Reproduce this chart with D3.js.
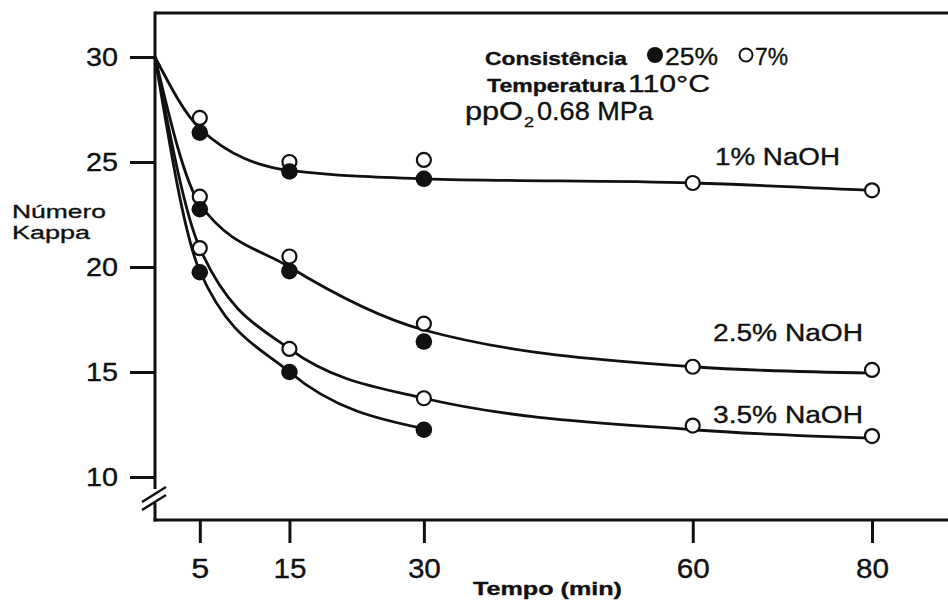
<!DOCTYPE html>
<html>
<head>
<meta charset="utf-8">
<script src="https://cdn.jsdelivr.net/npm/d3@7"></script>
<style>
  body { margin: 0; background: #fff; }
  svg { display: block; }
</style>
</head>
<body>
<div id="chart"></div>
<script>
var svgW = 948;
var svgH = 605;

// tempo (min) and kappa values
var times = [5, 15, 30, 60, 80];
var xTicks = [5, 15, 30, 60, 80];
var yTicks = [10, 15, 20, 25, 30];

// 25% consistency (filled), only up to 30 min
var filled1 = [26.4, 24.55, 24.2];
var filled25 = [22.75, 19.8, 16.45];
var filled35 = [19.75, 15.0, 12.25];

// 7% consistency (open)
var open1 = [27.1, 25.0, 25.1, 24.0, 23.65];
var open25 = [23.35, 20.5, 17.3, 15.25, 15.1];
var open35 = [20.9, 16.1, 13.75, 12.45, 11.95];

// fitted curves, as drawn in the figure
var curveT = [0, 5, 15, 30, 60, 80];
var curve1 = [30, 26.6, 24.6, 24.2, 24.0, 23.65];
var curve25 = [30, 23.0, 20.0, 17.0, 15.25, 14.95];
var curve35open = [30, 20.9, 16.1, 13.75, 12.25, 11.85];
var curveTshort = [0, 5, 15, 30];
var curve35filled = [30, 19.8, 15.0, 12.3];

var seriesLabels = ["1% NaOH", "2.5% NaOH", "3.5% NaOH"];
var labelKappa = [24.85, 16.5, 12.55];

var ink = "#111";
var font = "'Liberation Sans', Arial, sans-serif";

var svg = d3.select("#chart")
            .append("svg")
            .attr("width", svgW)
            .attr("height", svgH);

var x = d3.scaleLinear().domain([0, 80]).range([155, 872]);
var y = d3.scaleLinear().domain([10, 30]).range([477, 57]);

function fit(sel, w) {
    sel.attr("textLength", w).attr("lengthAdjust", "spacingAndGlyphs");
}

function label(px, py, str, size, weight, w) {
    var t = svg.append("text")
               .attr("x", px)
               .attr("y", py)
               .attr("font-family", font)
               .attr("font-size", size)
               .attr("font-weight", weight)
               .attr("fill", ink)
               .attr("stroke", ink)
               .attr("stroke-width", 0.35)
               .text(str);
    if (w) fit(t, w);
    return t;
}

// frame
var x0 = x(0);
svg.append("line").attr("x1", x0).attr("x2", svgW).attr("y1", 13).attr("y2", 13)
   .attr("stroke", ink).attr("stroke-width", 3);
svg.append("line").attr("x1", x0 - 1.5).attr("x2", svgW).attr("y1", 520).attr("y2", 520)
   .attr("stroke", ink).attr("stroke-width", 3);
svg.append("line").attr("x1", x0).attr("x2", x0).attr("y1", 11.5).attr("y2", 489)
   .attr("stroke", ink).attr("stroke-width", 3);
svg.append("line").attr("x1", x0).attr("x2", x0).attr("y1", 503).attr("y2", 521.5)
   .attr("stroke", ink).attr("stroke-width", 3);
// axis break
svg.append("line").attr("x1", 142).attr("y1", 502).attr("x2", 166).attr("y2", 487)
   .attr("stroke", ink).attr("stroke-width", 2.5);
svg.append("line").attr("x1", 142).attr("y1", 510).attr("x2", 166).attr("y2", 495)
   .attr("stroke", ink).attr("stroke-width", 2.5);

// axes
var leftAxis = d3.axisLeft(y).tickValues(yTicks).tickSize(25).tickPadding(12);
var gy = svg.append("g")
            .attr("transform", `translate(${x0}, 0)`)
            .call(leftAxis);
gy.select(".domain").remove();
gy.selectAll(".tick line").attr("stroke", ink).attr("stroke-width", 3);
gy.selectAll(".tick text")
  .attr("font-family", font).attr("font-size", 25).attr("fill", ink)
  .attr("stroke", ink).attr("stroke-width", 0.35)
  .call(fit, 32);

var bottomAxis = d3.axisBottom(x).tickValues(xTicks).tickSize(23).tickPadding(16);
var gx = svg.append("g")
            .attr("transform", `translate(0, 520)`)
            .call(bottomAxis);
gx.select(".domain").remove();
gx.selectAll(".tick line").attr("stroke", ink).attr("stroke-width", 3);
gx.selectAll(".tick text")
  .attr("font-family", font).attr("font-size", 27).attr("fill", ink)
  .attr("stroke", ink).attr("stroke-width", 0.35)
  .each(function(d) {
      d3.select(this).call(fit, String(d).length === 1 ? 18 : 33);
  });

// curves
var line = d3.line()
             .x(d => x(d[0]))
             .y(d => y(d[1]))
             .curve(d3.curveMonotoneX);

[[curveT, curve1], [curveT, curve25], [curveT, curve35open], [curveTshort, curve35filled]]
  .forEach(function(c) {
      svg.append("path")
         .attr("d", line(d3.zip(c[0], c[1])))
         .attr("fill", "none")
         .attr("stroke", ink)
         .attr("stroke-width", 2.8);
  });

// markers: open first, filled on top
[open1, open25, open35].forEach(function(s) {
    svg.append("g").selectAll("circle")
       .data(d3.zip(times, s))
       .enter()
       .append("circle")
       .attr("cx", d => x(d[0]))
       .attr("cy", d => y(d[1]))
       .attr("r", 7)
       .attr("fill", "#fff")
       .attr("stroke", ink)
       .attr("stroke-width", 2.2);
});
[filled1, filled25, filled35].forEach(function(s) {
    svg.append("g").selectAll("circle")
       .data(d3.zip(times.slice(0, 3), s))
       .enter()
       .append("circle")
       .attr("cx", d => x(d[0]))
       .attr("cy", d => y(d[1]))
       .attr("r", 8.3)
       .attr("fill", ink);
});

// series labels
var labelX = [715, 713, 713];
var labelW = [125, 150, 150];
seriesLabels.forEach(function(s, i) {
    label(labelX[i], y(labelKappa[i]), s, 23, "normal", labelW[i]);
});

// legend / conditions
label(485, 65, "Consistência", 19, "bold", 142);
svg.append("circle").attr("cx", 655).attr("cy", 55).attr("r", 8).attr("fill", ink);
label(665, 65, "25%", 24, "normal", 53);
svg.append("circle").attr("cx", 746).attr("cy", 55).attr("r", 6.5)
   .attr("fill", "#fff").attr("stroke", ink).attr("stroke-width", 2);
label(755, 65, "7%", 24, "normal", 33);
label(487, 92, "Temperatura", 19, "bold", 138);
label(628, 92, "110°C", 23, "normal", 82);
label(465, 120, "ppO", 25, "normal", 58);
label(524, 127, "2", 15, "normal", 10);
label(537, 120, "0.68 MPa", 25, "normal", 116);

// axis titles
label(12, 218, "Número", 19, "normal", 94);
label(12, 239, "Kappa", 19, "normal", 78);
label(473, 595, "Tempo (min)", 18.5, "bold", 149);
</script>
</body>
</html>
